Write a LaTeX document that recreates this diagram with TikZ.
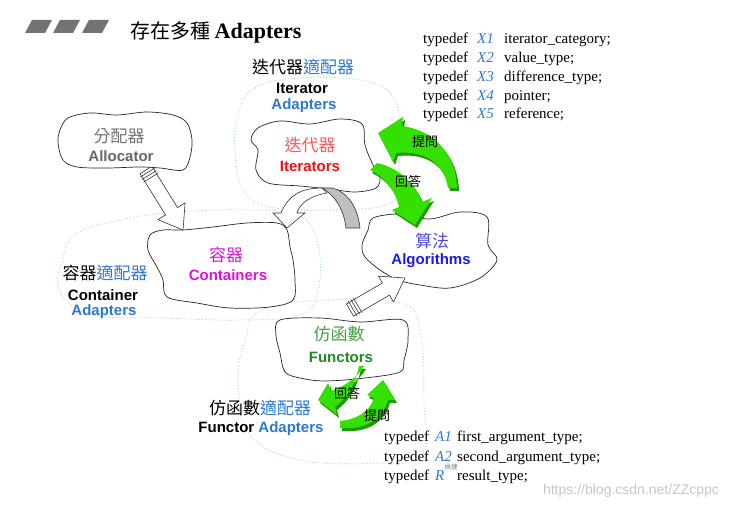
\documentclass[tikz,border=0pt]{standalone}
\usepackage{fontspec}
\setmainfont{Liberation Serif}
\setsansfont{Liberation Sans}
\newfontfamily\cjk{Noto Sans CJK TC}
\usetikzlibrary{calc}

\definecolor{adaptblue}{HTML}{2F78D0}
\definecolor{itred}{HTML}{EE1111}
\definecolor{itredlt}{HTML}{FF5555}
\definecolor{ctmag}{HTML}{DD11DD}
\definecolor{algblue}{HTML}{1A1AE0}
\definecolor{algbluelt}{HTML}{4A4AE0}
\definecolor{fngreen}{HTML}{228822}
\definecolor{fngreenlt}{HTML}{44A044}
\definecolor{arrgreen}{HTML}{33E000}
\definecolor{arrdark}{HTML}{1C9A00}
\definecolor{zonecyan}{HTML}{A0D8D8}

% block arrow: tail, angle, length, head half width
\newcommand{\fatarrow}[4]{%
  \begin{scope}[shift={#1},rotate=#2]
    \draw[blockarr] (0,-7) -- ({#3-22},-7) -- ({#3-22},-#4) -- (#3,0) -- ({#3-22},#4) -- ({#3-22},7) -- (0,7) -- cycle;
    \foreach \s in {3,6,9} \draw[blockarr] (\s,-8.5) -- (\s,8.5);
  \end{scope}}

\begin{document}
\begin{tikzpicture}[
  x=1pt,y=-1pt,
  cloud/.style={draw=black!85,line width=0.7pt,fill=white},
  zone/.style={draw=zonecyan,line width=0.9pt,dotted},
  blockarr/.style={draw=black!80,line width=0.6pt,fill=white},
  cjklbl/.style={font=\cjk\fontsize{17}{20}\selectfont,inner sep=0pt},
  enlbl/.style={font=\sffamily\bfseries\fontsize{15}{18}\selectfont,inner sep=0pt},
  code/.style={font=\fontsize{15}{18}\selectfont,anchor=base west,inner sep=0pt},
  qa/.style={font=\cjk\fontsize{13}{15}\selectfont,inner sep=0pt}
]
  \useasboundingbox (0,0) rectangle (739,510);
  \fill[white] (0,0) rectangle (739,510);

  % title
  \foreach \x in {25,53,82}
    \fill[black!55] (\x,33) -- (\x+7,20) -- (\x+27,20) -- (\x+20,33) -- cycle;
  \node[anchor=west,inner sep=0pt] (title) at (130,32)
    {\fontsize{20}{24}\selectfont\cjk 存在多種\ \rmfamily\bfseries\fontsize{22}{26}\selectfont Adapters};

  % adapter zones
  \draw[zone] plot[smooth cycle,tension=0.7] coordinates {
    (238,115) (255,88) (300,78) (360,80) (392,95) (400,130) (398,175)
    (390,203) (330,210) (270,207) (243,190) (235,150)};
  \draw[zone] plot[smooth cycle,tension=0.7] coordinates {
    (62,262) (75,235) (120,220) (180,212) (250,210) (300,216) (318,245)
    (318,290) (300,315) (240,320) (160,318) (100,316) (70,304) (58,285)};
  \draw[zone] plot[smooth cycle,tension=0.7] coordinates {
    (262,310) (330,300) (400,303) (420,330) (424,400) (422,455) (380,463)
    (300,460) (250,435) (238,385) (245,340)};

  % allocator -> containers
  \fatarrow{(146,170)}{-58.3}{70.5}{16}

  % clouds
  \draw[cloud] plot[smooth cycle,tension=0.55] coordinates {
    (68,118) (90,113) (117,115) (147,112) (173,115) (187,123) (192,140)
    (190,157) (183,170) (160,168) (140,167) (107,168) (77,167) (63,160)
    (58,143) (60,130)};
  \draw[cloud] plot[smooth cycle,tension=0.55] coordinates {
    (258,128) (280,121) (310,124) (340,119) (362,124) (365,145) (373,165)
    (380,177) (376,188) (355,192) (330,189) (300,186) (268,183) (256,170)
    (258,150) (251,140)};
  \draw[cloud] plot[smooth cycle,tension=0.55] coordinates {
    (150,235) (163,230) (183,230) (213,227) (247,223) (277,223) (287,230)
    (290,247) (293,260) (295,280) (293,300) (270,307) (230,308) (197,303)
    (167,297) (163,280) (157,267) (148,250)};
  \draw[cloud] plot[smooth cycle,tension=0.55] coordinates {
    (373,218) (400,214) (430,219) (460,212) (487,217) (488,245) (497,260)
    (480,278) (450,288) (420,285) (398,280) (380,270) (365,257) (362,245)
    (368,230)};
  \draw[cloud] plot[smooth cycle,tension=0.55] coordinates {
    (280,320) (320,318) (360,322) (403,320) (408,340) (404,360) (400,372)
    (365,378) (325,381) (300,378) (285,372) (280,353) (276,335)};

  % functors -> algorithms
  \fatarrow{(350,310)}{30.2}{63.6}{15}

  % iterators -> containers
  \draw[blockarr] (322,188) .. controls (300,188) and (288,196) .. (281,213)
    -- (273,213) -- (287,228) -- (305,213) -- (297,213)
    .. controls (300,203) and (310,196) .. (327,193) -- cycle;
  \draw[blockarr,fill=black!25] (322,188) .. controls (335,195) and (344,210) .. (346,228)
    -- (360,228) .. controls (358,208) and (348,192) .. (332,188) -- cycle;

  % cloud labels
  \node[cjklbl,text=black!55] (alcCn) at (119,136) {分配器};
  \node[enlbl,text=black!60]  (alcEn) at (121,156) {Allocator};
  \node[cjklbl,text=itredlt]  (itCn)  at (310,145) {迭代器};
  \node[enlbl,text=itred]     (itEn)  at (310,166) {Iterators};
  \node[cjklbl,text=ctmag]    (ctCn)  at (226,255) {容器};
  \node[enlbl,text=ctmag]     (ctEn)  at (228,275) {Containers};
  \node[cjklbl,text=algbluelt] (algCn) at (432,241) {算法};
  \node[enlbl,text=algblue]   (algEn) at (431,261) {Algorithms};
  \node[cjklbl,text=fngreenlt] (fnCn) at (339,334) {仿函數};
  \node[enlbl,text=fngreen]   (fnEn)  at (341,357) {Functors};

  % adapter labels
  \node[cjklbl] (itAdCn) at (303,67) {迭代器\textcolor{adaptblue}{適配器}};
  \node[enlbl]  (itAdEn) at (302,88) {Iterator};
  \node[enlbl,text=adaptblue] (itAdEn2) at (304,106) {Adapters};
  \node[cjklbl] (ctAdCn) at (105,273) {容器\textcolor{adaptblue}{適配器}};
  \node[enlbl]  (ctAdEn) at (103,295) {Container};
  \node[enlbl,text=adaptblue] (ctAdEn2) at (104,312) {Adapters};
  \node[cjklbl] (fnAdCn) at (260,408) {仿函數\textcolor{adaptblue}{適配器}};
  \node[enlbl]  (fnAdEn) at (261,429) {Functor \textcolor{adaptblue}{Adapters}};

  % question / answer arrows
  \foreach \c/\dx/\dy in {arrdark/2/3,arrgreen/0/0} {
    \fill[\c,shift={(\dx,\dy)}] (378,133) -- (403,117) -- (402,126)
      .. controls (432,130) and (456,152) .. (457,188) -- (448,188)
      .. controls (444,163) and (425,150) .. (396,153) -- (393,162) -- cycle;
    \fill[\c,shift={(\dx,\dy)}] (415,225) -- (392,210) -- (399,207)
      .. controls (395,190) and (385,177) .. (370,170) -- (377,163)
      .. controls (400,168) and (416,185) .. (422,202) -- (432,198) -- cycle;
    \fill[\c,shift={(\dx,\dy)}] (318,400) -- (328,383) -- (331,391)
      .. controls (348,385) and (358,376) .. (364,366) -- (359,366)
      .. controls (355,385) and (347,398) .. (335,407) -- (337,415) -- cycle;
    \fill[\c,shift={(\dx,\dy)}] (383,380) -- (395,400) -- (388,400)
      .. controls (382,420) and (365,430) .. (340,428) -- (340,421)
      .. controls (355,420) and (370,412) .. (374,398) -- (367,395) -- cycle;
  }
  \node[qa] (askA) at (425,142) {提問};
  \node[qa] (ansA) at (408,182) {回答};
  \node[qa] (ansB) at (347,394) {回答};
  \node[qa] (askB) at (377,416) {提問};

  % iterator traits
  \foreach \n/\t [count=\i] in {X1/iterator\_category;,X2/value\_type;,
      X3/difference\_type;,X4/pointer;,X5/reference;} {
    \node[code] (itTd\i) at (423,{44+18.7*(\i-1)}) {typedef};
    \node[code,text=adaptblue] (itTx\i) at (477,{44+18.7*(\i-1)}) {\textit{\n}};
    \node[code] (itTn\i) at (504,{44+18.7*(\i-1)}) {\t};
  }

  % functor traits
  \foreach \n/\t [count=\i] in {A1/first\_argument\_type;,A2/second\_argument\_type;,
      R/result\_type;} {
    \node[code] (fnTd\i) at (384,{442+19*(\i-1)}) {typedef};
    \node[code,text=adaptblue] (fnTx\i) at (435,{442+19*(\i-1)}) {\textit{\n}};
    \node[code] (fnTn\i) at (457,{442+19*(\i-1)}) {\t};
  }
  \node[font=\cjk\fontsize{6.5}{8}\selectfont,text=black!50,inner sep=0pt] (stamp) at (451,467) {侯捷};

  \node[font=\sffamily\fontsize{14}{16}\selectfont,text=black!22,inner sep=0pt] (url) at (631,491) {https://blog.csdn.net/ZZcppc};
\end{tikzpicture}
\end{document}
